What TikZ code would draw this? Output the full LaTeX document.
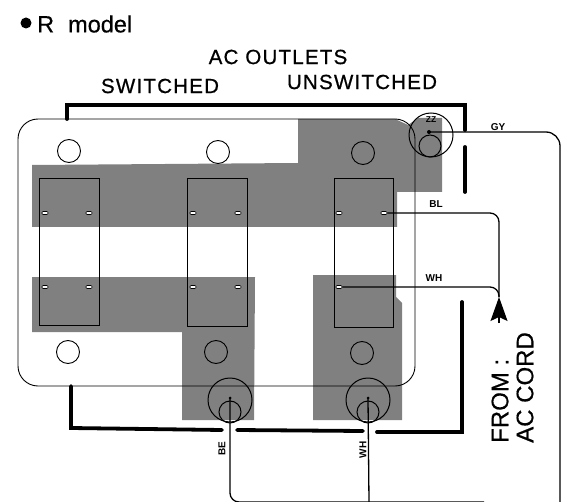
\documentclass[tikz,border=0pt]{standalone}
\usepackage{fontspec}
\usepackage{tikz}
\usetikzlibrary{arrows.meta}
\setmainfont{Liberation Sans}
\newfontfamily\spacedfont[LetterSpace=6, FakeBold=0.7]{Liberation Sans}
\newfontfamily\plainfont[FakeBold=0.5]{Liberation Sans}

\tikzset{
    shade area/.style={fill=black!50, draw=none},
    outlet box/.style={draw, line width=0.9pt, fill=none},
    wall/.style={line width=3.8pt, line cap=round},
    wire/.style={line width=1.3pt, rounded corners=9pt},
    hole/.style={draw, circle, line width=0.9pt, minimum size=23pt, inner sep=0pt},
    big ring/.style={draw, circle, line width=1pt, minimum size=44pt, inner sep=0pt},
    small ring/.style={draw, circle, line width=1pt, minimum size=22pt, inner sep=0pt},
    slot/.style={draw, fill=white, rounded corners=1pt, line width=0.6pt, minimum width=6pt, minimum height=3pt, inner sep=0pt},
    tiny label/.style={font=\bfseries\fontsize{10}{11}\selectfont, inner sep=0pt},
    head label/.style={font=\spacedfont\fontsize{20.5}{22}\selectfont, inner sep=0pt},
    note label/.style={rotate=90, anchor=west, inner sep=0pt, font=\plainfont\fontsize{24}{26}\selectfont}
}

\begin{document}
\begin{tikzpicture}[x=1pt, y=-1pt]
    \useasboundingbox (0,0) rectangle (561,502);

    % Shaded areas of the plate
    \fill[shade area] (298,119) -- (395,119) -- (408,125) -- (418,118) -- (442,118) -- (442,192) -- (397,192) -- (397,227) -- (32,227) -- (32,165) -- (298,163) -- cycle;
    \fill[shade area] (32,277) -- (255,277) -- (254,420) -- (182,420) -- (182,332) -- (32,332) -- cycle;
    \fill[shade area] (313,275) -- (396,275) -- (396,297) -- (402,303) -- (402,420) -- (313,420) -- cycle;

    % Plate outline
    \draw[line width=0.9pt, rounded corners=20pt] (18,119) rectangle (415,386);

    % Outlets
    \draw[outlet box] (39,178) rectangle (99,325);
    \draw[outlet box] (187,178) rectangle (247,326);
    \draw[outlet box] (334,178) rectangle (393,327);

    % Outlet slots
    \foreach \col/\xa/\xb in {a/45/89, b/193/238, c/339/384} {
        \node[slot] (\col topl) at (\xa,213) {};
        \node[slot] (\col topr) at (\xb,213) {};
        \node[slot] (\col botl) at (\xa,287) {};
    }
    \node[slot] (abotr) at (89,287) {};
    \node[slot] (bbotr) at (238,287) {};

    % Screw holes
    \node[hole] (hole1) at (69,151) {};
    \node[hole] (hole2) at (218,152) {};
    \node[hole] (hole3) at (363,153) {};
    \node[hole] (hole4) at (68,352) {};
    \node[hole] (hole5) at (216,352) {};
    \node[hole] (hole6) at (362,353) {};

    % Ground rings
    \node[big ring] (gyring) at (431,135) {};
    \node[small ring] (gysmall) at (430,146) {};
    \node[big ring] (bering) at (230,400) {};
    \node[small ring] (besmall) at (230,412) {};
    \node[big ring] (whring) at (368,400) {};
    \node[small ring] (whsmall) at (368,412) {};
    \node[font=\bfseries\fontsize{8.5}{9}\selectfont, inner sep=0pt] (zzmark) at (431,120) {ZZ};

    % Terminals
    \fill (429,132) circle (2pt) coordinate (gyend);
    \fill (230,398) circle (1.5pt) coordinate (beend);
    \fill (368,398) circle (1.5pt) coordinate (whend);

    % Chassis walls
    \draw[wall] (67,119) -- (67,105) -- (465,105) -- (465,130);
    \draw[wall] (465,147) -- (465,192);
    \draw[wall] (71,386) -- (71,428) -- (222,430);
    \draw[wall] (237,430) -- (363,431);
    \draw[wall] (377,432) -- (462,432) -- (462,302);

    % Free ends of the wires
    \coordinate (gyout) at (560,502);
    \coordinate (beout) at (484,502);
    \coordinate (whout) at (369,502);
    \coordinate (cordtip) at (499,297);
    \coordinate (cordtail) at (499,323);

    % Wires
    \draw[wire, rounded corners=14pt] (gyend) -| (gyout);
    \draw[wire] (ctopr) -| (cordtip);
    \draw[wire] (cbotl) -| (cordtip);
    \draw[wire] (beend) |- (beout);
    \draw[wire] (whend) -- (whout);
    \draw[line width=1.3pt, -{Stealth[length=24pt, width=17pt, inset=4pt]}] (cordtail) -- (cordtip);

    % Wire labels
    \node[tiny label] (gylabel) at (498,127) {GY};
    \node[tiny label] (bllabel) at (436,204) {BL};
    \node[tiny label] (whlabel) at (434,278) {WH};
    \node[tiny label, rotate=90] (belabel) at (222,449) {BE};
    \node[tiny label, rotate=90] (whlabelb) at (363,450) {WH};

    % Headings
    \fill (26,23) circle (5.5pt) coordinate (bullet);
    \node[anchor=west, inner sep=0pt, font=\plainfont\fontsize{23.5}{25}\selectfont] (model) at (37,24) {R\hspace{14pt}model};
    \node[head label] (outlets) at (278,57) {AC OUTLETS};
    \node[head label] (switched) at (160,86) {SWITCHED};
    \node[head label] (unswitched) at (362,82) {UNSWITCHED};

    % Cord note
    \node[note label] (fromnote) at (500,443) {FROM :};
    \node[note label] (cordnote) at (525,443) {AC CORD};
\end{tikzpicture}
\end{document}
